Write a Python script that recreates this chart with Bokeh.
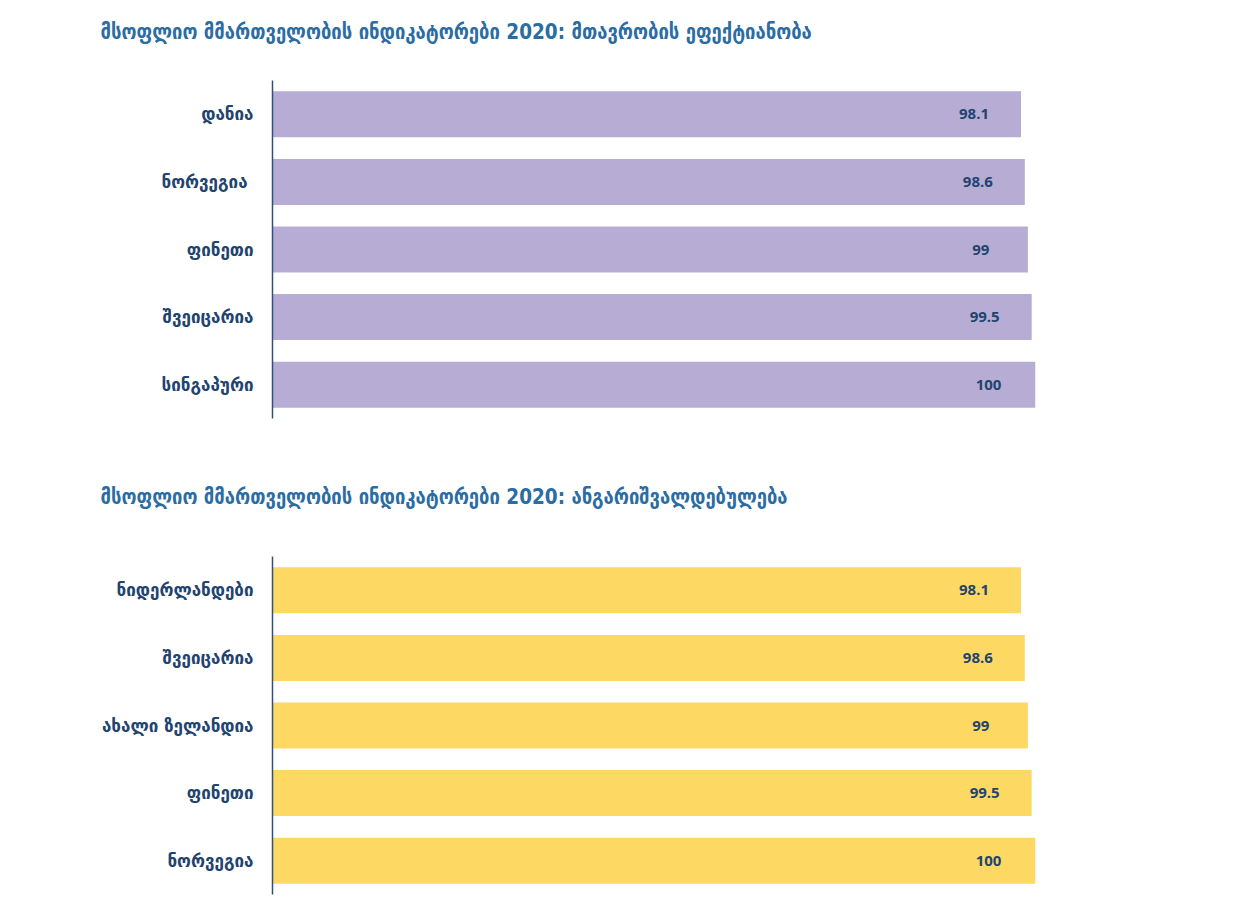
from bokeh.plotting import figure
from bokeh.models import ColumnDataSource, FactorRange, Range1d, Title
from bokeh.layouts import column
from bokeh.embed import file_html
from bokeh.resources import INLINE

title1 = "მსოფლიო მმართველობის ინდიკატორები 2020: მთავრობის ეფექტიანობა"
countries1 = ["დანია", "ნორვეგია ", "ფინეთი", "შვეიცარია", "სინგაპური"]
values1 = [98.1, 98.6, 99, 99.5, 100]

title2 = "მსოფლიო მმართველობის ინდიკატორები 2020: ანგარიშვალდებულება"
countries2 = ["ნიდერლანდები", "შვეიცარია", "ახალი ზელანდია", "ფინეთი", "ნორვეგია"]
values2 = [98.1, 98.6, 99, 99.5, 100]

TITLE_COLOR = "#2B6CA3"
TEXT_COLOR = "#1F4470"
AXIS_COLOR = "#2F4F7F"
FRAME_H = 338


def make_chart(title, cats, vals, color, top, bottom, gap):
    labels = [("%g" % v) for v in vals]
    src = ColumnDataSource(dict(cat=cats, val=vals, lab=labels))
    p = figure(
        width=1233, height=top + FRAME_H + bottom,
        y_range=FactorRange(factors=list(reversed(cats))),
        x_range=Range1d(0, 100),
        output_backend="svg", toolbar_location=None,
        min_border_left=272, min_border_right=198,
        min_border_top=top, min_border_bottom=bottom,
    )
    # spacer between title and bars (closest to the frame)
    p.add_layout(Title(text=" ", text_font_size="1px", standoff=gap), "above")
    p.add_layout(Title(
        text=title, text_font="DejaVu Sans Condensed", text_font_style="bold",
        text_font_size="20.5px", text_color=TITLE_COLOR,
        align="left", offset=-172, standoff=0,
    ), "above")
    p.hbar(y="cat", right="val", left=0, height=0.68, source=src,
           fill_color=color, line_color=None)
    p.text(x="val", y="cat", text="lab", source=src, x_offset=-47,
           text_align="center", text_baseline="middle",
           text_font_size="15px", text_font_style="bold",
           text_color=TEXT_COLOR, text_font={"value": "Open Sans"})
    p.xaxis.visible = False
    p.xgrid.visible = False
    p.ygrid.visible = False
    p.outline_line_color = None
    ax = p.yaxis[0]
    ax.major_tick_line_color = None
    ax.minor_tick_line_color = None
    ax.axis_line_color = AXIS_COLOR
    ax.axis_line_width = 1.5
    ax.major_label_standoff = 13
    ax.major_label_text_font = "DejaVu Sans"
    ax.major_label_text_font_style = "bold"
    ax.major_label_text_font_size = "17px"
    ax.major_label_text_color = TEXT_COLOR
    return p


p1 = make_chart(title1, countries1, values1, "#B7ADD4", 80, 32, 34)
p2 = make_chart(title2, countries2, values2, "#FDD963", 106, 4, 45)

layout = column(p1, p2, spacing=0)
open("out.html", "w").write(file_html(layout, INLINE))
